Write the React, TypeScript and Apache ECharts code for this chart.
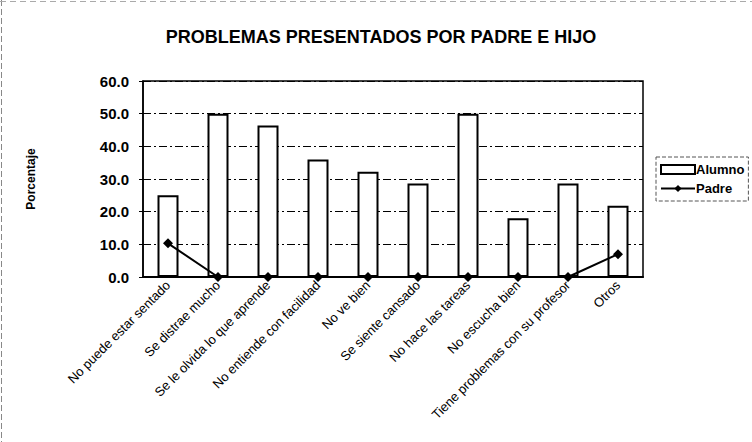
import React, { useEffect, useRef } from "react";
import * as echarts from "echarts";

const categories = [
  "No puede estar sentado",
  "Se distrae mucho",
  "Se le olvida lo que aprende",
  "No entiende con facilidad",
  "No ve bien",
  "Se siente cansado",
  "No hace las tareas",
  "No escucha bien",
  "Tiene problemas con su profesor",
  "Otros",
];
const alumnoValues = [25.0, 50.0, 46.4, 36.0, 32.2, 28.6, 50.0, 18.0, 28.6, 21.8];
const padreValues = [10.3, 0, 0, 0, 0, 0, 0, 0, 0, 7.0];

export default function App() {
  const ref = useRef<HTMLDivElement>(null);
  useEffect(() => {
    if (!ref.current) return;
    const chart = echarts.init(ref.current, undefined, { renderer: "svg" });
    const font = "Arial, 'Liberation Sans', sans-serif";
    chart.setOption({
      animation: false,
      backgroundColor: "#fff",
      textStyle: { fontFamily: font },
      title: {
        text: "PROBLEMAS PRESENTADOS POR PADRE E HIJO",
        left: 376,
        top: 23,
        textAlign: "center",
        textStyle: { fontSize: 18, fontWeight: "bold", color: "#000", fontFamily: font },
      },
      legend: {
        orient: "vertical",
        left: 656,
        top: 157,
        itemWidth: 34,
        itemHeight: 9,
        itemGap: 6,
        padding: [6, 4, 6, 4],
        borderColor: "#555",
        borderWidth: 1,
        borderType: "dashed",
        textStyle: { fontSize: 13, fontWeight: "bold", color: "#000", fontFamily: font, padding: [0, 0, 0, -4] },
        data: [
          { name: "Alumno", icon: "rect", itemStyle: { color: "#fff", borderColor: "#000", borderWidth: 2 } },
          { name: "Padre" },
        ],
      },
      grid: {
        left: 143,
        right: 109,
        top: 81,
        bottom: 165,
        show: true,
        borderColor: "#000",
        borderWidth: 1.5,
        backgroundColor: "#fff",
      },
      xAxis: {
        type: "category",
        data: categories,
        axisLine: { show: true, lineStyle: { color: "#000", width: 2 } },
        axisTick: { show: false },
        axisLabel: {
          interval: 0,
          rotate: 45,
          fontSize: 13,
          color: "#000",
          fontFamily: font,
          margin: 6,
        },
      },
      yAxis: {
        type: "value",
        min: 0,
        max: 60,
        interval: 10,
        name: "Porcentaje",
        nameLocation: "middle",
        nameGap: 106,
        nameRotate: 90,
        nameTextStyle: { fontSize: 12, fontWeight: "bold", color: "#000", fontFamily: font },
        axisLine: { show: true, lineStyle: { color: "#000", width: 1.5 } },
        axisTick: { show: true, length: 4, lineStyle: { color: "#000" } },
        axisLabel: {
          formatter: (v: number) => v.toFixed(1),
          fontSize: 15,
          fontWeight: "bold",
          color: "#000",
          fontFamily: font,
          margin: 14,
        },
        splitLine: { show: true, lineStyle: { color: "#000", type: [8, 3, 2, 3], width: 1 } },
      },
      series: [
        {
          name: "Alumno",
          type: "bar",
          data: alumnoValues,
          barWidth: 21,
          itemStyle: { color: "#fff", borderColor: "#000", borderWidth: 2 },
        },
        {
          name: "Padre",
          type: "line",
          data: padreValues,
          symbol: "diamond",
          symbolSize: 10,
          itemStyle: { color: "#000" },
          lineStyle: { color: "#000", width: 2 },
          z: 5,
        },
      ],
      graphic: [
        {
          type: "line",
          shape: { x1: 1.5, y1: 0, x2: 1.5, y2: 442 },
          style: { stroke: "#888", lineWidth: 1, lineDash: [6, 3] },
        },
        {
          type: "line",
          shape: { x1: 0, y1: 1.5, x2: 752, y2: 1.5 },
          style: { stroke: "#aaa", lineWidth: 1, lineDash: [6, 4] },
        },
      ],
    });
    return () => chart.dispose();
  }, []);
  return <div ref={ref} style={{ width: 752, height: 442, position: "absolute", left: 0, top: 0 }} />;
}
